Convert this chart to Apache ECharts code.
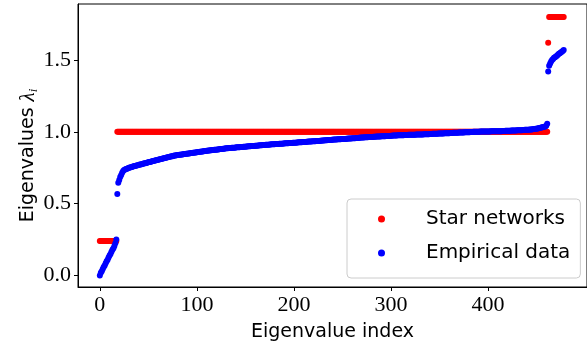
<!DOCTYPE html>
<html>
<head>
<meta charset="utf-8">
<script src="https://cdn.jsdelivr.net/npm/echarts@6/dist/echarts.min.js"></script>
<style>
html,body{margin:0;padding:0;background:#fff;}
#c{width:587px;height:347px;}
</style>
</head>
<body>
<div id="c"></div>
<script>
// Star networks eigenvalues (index 0..478)
var starValues = [
0.24,0.24,0.24,0.24,0.24,0.24,0.24,0.24,0.24,0.24,0.24,0.24,0.24,0.24,0.24,0.24,0.24,0.24,
1,1,1,1,1,1,1,1,1,1,1,1,1,1,1,1,1,1,1,1,1,1,1,1,1,1,1,1,1,1,1,1,1,1,1,1,1,1,1,1,
1,1,1,1,1,1,1,1,1,1,1,1,1,1,1,1,1,1,1,1,1,1,1,1,1,1,1,1,1,1,1,1,1,1,1,1,1,1,1,1,
1,1,1,1,1,1,1,1,1,1,1,1,1,1,1,1,1,1,1,1,1,1,1,1,1,1,1,1,1,1,1,1,1,1,1,1,1,1,1,1,
1,1,1,1,1,1,1,1,1,1,1,1,1,1,1,1,1,1,1,1,1,1,1,1,1,1,1,1,1,1,1,1,1,1,1,1,1,1,1,1,
1,1,1,1,1,1,1,1,1,1,1,1,1,1,1,1,1,1,1,1,1,1,1,1,1,1,1,1,1,1,1,1,1,1,1,1,1,1,1,1,
1,1,1,1,1,1,1,1,1,1,1,1,1,1,1,1,1,1,1,1,1,1,1,1,1,1,1,1,1,1,1,1,1,1,1,1,1,1,1,1,
1,1,1,1,1,1,1,1,1,1,1,1,1,1,1,1,1,1,1,1,1,1,1,1,1,1,1,1,1,1,1,1,1,1,1,1,1,1,1,1,
1,1,1,1,1,1,1,1,1,1,1,1,1,1,1,1,1,1,1,1,1,1,1,1,1,1,1,1,1,1,1,1,1,1,1,1,1,1,1,1,
1,1,1,1,1,1,1,1,1,1,1,1,1,1,1,1,1,1,1,1,1,1,1,1,1,1,1,1,1,1,1,1,1,1,1,1,1,1,1,1,
1,1,1,1,1,1,1,1,1,1,1,1,1,1,1,1,1,1,1,1,1,1,1,1,1,1,1,1,1,1,1,1,1,1,1,1,1,1,1,1,
1,1,1,1,1,1,1,1,1,1,1,1,1,1,1,1,1,1,1,1,1,1,1,1,1,1,1,1,1,1,1,1,1,1,1,1,1,1,1,1,
1,1,1,1,
1.62,
1.8,1.8,1.8,1.8,1.8,1.8,1.8,1.8,1.8,1.8,1.8,1.8,1.8,1.8,1.8,1.8
];

// Empirical data eigenvalues (index 0..478)
var empiricalValues = [
0.000,0.020,0.030,0.045,0.060,0.070,0.085,0.100,0.110,0.125,
0.140,0.150,0.165,0.180,0.190,0.205,0.225,0.250,0.567,0.645,
0.665,0.685,0.700,0.715,0.728,0.735,0.738,0.741,0.744,0.747,
0.750,0.752,0.754,0.756,0.758,0.760,0.762,0.764,0.766,0.768,
0.770,0.772,0.773,0.775,0.777,0.779,0.781,0.782,0.784,0.786,
0.788,0.790,0.791,0.793,0.795,0.797,0.798,0.800,0.802,0.804,
0.806,0.807,0.809,0.811,0.813,0.814,0.816,0.818,0.820,0.821,
0.823,0.825,0.826,0.828,0.830,0.831,0.833,0.835,0.836,0.837,
0.838,0.839,0.840,0.841,0.842,0.843,0.844,0.845,0.846,0.847,
0.848,0.849,0.850,0.851,0.852,0.853,0.854,0.855,0.856,0.857,
0.858,0.859,0.860,0.861,0.862,0.863,0.864,0.865,0.866,0.867,
0.868,0.869,0.870,0.871,0.872,0.872,0.873,0.874,0.875,0.876,
0.876,0.877,0.878,0.879,0.880,0.880,0.881,0.882,0.883,0.884,
0.885,0.885,0.886,0.887,0.887,0.888,0.889,0.889,0.890,0.890,
0.891,0.892,0.892,0.893,0.893,0.894,0.895,0.895,0.896,0.896,
0.897,0.898,0.898,0.899,0.899,0.900,0.901,0.901,0.902,0.902,
0.903,0.904,0.904,0.905,0.905,0.906,0.907,0.907,0.908,0.908,
0.909,0.910,0.910,0.911,0.911,0.912,0.912,0.913,0.913,0.914,
0.914,0.915,0.915,0.916,0.916,0.917,0.917,0.918,0.918,0.919,
0.919,0.920,0.920,0.921,0.921,0.922,0.922,0.923,0.923,0.924,
0.924,0.925,0.925,0.926,0.926,0.927,0.927,0.928,0.928,0.929,
0.929,0.930,0.930,0.931,0.931,0.932,0.932,0.933,0.933,0.934,
0.934,0.935,0.935,0.936,0.936,0.937,0.937,0.938,0.938,0.939,
0.939,0.940,0.941,0.942,0.942,0.943,0.943,0.944,0.944,0.945,
0.945,0.946,0.946,0.947,0.947,0.948,0.948,0.949,0.949,0.950,
0.950,0.951,0.951,0.951,0.952,0.952,0.953,0.953,0.954,0.954,
0.955,0.955,0.956,0.956,0.957,0.957,0.958,0.959,0.959,0.960,
0.960,0.961,0.961,0.962,0.962,0.963,0.963,0.964,0.964,0.965,
0.965,0.965,0.966,0.966,0.966,0.967,0.967,0.968,0.968,0.968,
0.969,0.969,0.970,0.970,0.970,0.971,0.971,0.972,0.972,0.972,
0.973,0.973,0.974,0.974,0.975,0.975,0.975,0.976,0.976,0.976,
0.977,0.977,0.977,0.977,0.978,0.978,0.978,0.978,0.979,0.979,
0.979,0.979,0.980,0.980,0.980,0.980,0.981,0.981,0.981,0.981,
0.982,0.982,0.982,0.982,0.983,0.983,0.983,0.984,0.984,0.984,
0.985,0.985,0.985,0.986,0.986,0.986,0.987,0.987,0.987,0.988,
0.988,0.988,0.989,0.989,0.989,0.990,0.990,0.990,0.991,0.991,
0.991,0.992,0.992,0.992,0.993,0.993,0.993,0.994,0.994,0.994,
0.995,0.995,0.995,0.996,0.996,0.996,0.997,0.997,0.997,0.998,
0.998,0.998,0.999,0.999,0.999,1.000,1.000,1.000,1.001,1.001,
1.001,1.001,1.002,1.002,1.002,1.002,1.002,1.003,1.003,1.003,
1.003,1.003,1.003,1.004,1.004,1.004,1.004,1.004,1.005,1.005,
1.005,1.005,1.005,1.005,1.005,1.006,1.006,1.006,1.007,1.007,
1.007,1.008,1.008,1.008,1.009,1.009,1.009,1.010,1.010,1.010,
1.011,1.011,1.011,1.012,1.012,1.012,1.013,1.013,1.014,1.014,
1.014,1.015,1.015,1.016,1.016,1.017,1.018,1.019,1.020,1.021,
1.022,1.024,1.025,1.027,1.028,1.030,1.032,1.034,1.036,1.038,
1.042,1.056,1.420,1.460,1.475,1.490,1.500,1.508,1.515,1.520,
1.525,1.530,1.537,1.543,1.548,1.553,1.558,1.563,1.570
];

var xTicks = [0, 100, 200, 300, 400];
var yTicks = [0, 0.5, 1.0, 1.5];
var seriesNames = ['Star networks', 'Empirical data'];

function toPoints(arr) { return arr.map(function (v, i) { return [i, v]; }); }

var serif = '"Liberation Serif", serif';
var sans = '"DejaVu Sans", sans-serif';

var chart = echarts.init(document.getElementById('c'), null, {renderer: 'canvas'});
chart.setOption({
  animation: false,
  backgroundColor: '#fff',
  grid: {left: 78, top: 4, width: 518, height: 288, show: true, borderColor: '#000', borderWidth: 1, containLabel: false},
  xAxis: {
    type: 'value', min: -22.5, max: 502,
    name: 'Eigenvalue index', nameLocation: 'middle', nameGap: 36, nameMoveOverlap: false,
    nameTextStyle: {fontFamily: sans, fontSize: 19, color: '#000'},
    axisLine: {show: true, onZero: false, lineStyle: {color: '#000', width: 1}},
    axisTick: {show: true, length: 4, inside: false, customValues: xTicks, lineStyle: {color: '#000'}},
    axisLabel: {customValues: xTicks, fontFamily: serif, fontSize: 22, color: '#000', margin: 7},
    splitLine: {show: false}
  },
  yAxis: {
    type: 'value', min: -0.08, max: 1.89,
    name: 'Eigenvalues {l|λ}{s|i}', nameLocation: 'middle', nameGap: 38, nameMoveOverlap: false,
    nameTextStyle: {fontFamily: sans, fontSize: 19, color: '#000', padding: [0, 20, 0, 0],
      rich: {
        l: {fontFamily: serif, fontStyle: 'italic', fontSize: 21, color: '#000'},
        s: {fontFamily: serif, fontStyle: 'italic', fontSize: 13, color: '#000', padding: [10, 0, 0, 0]}
      }},
    axisLine: {show: true, onZero: false, lineStyle: {color: '#000', width: 1}},
    axisTick: {show: true, length: 4, inside: false, customValues: yTicks, lineStyle: {color: '#000'}},
    axisLabel: {customValues: yTicks, fontFamily: serif, fontSize: 22, color: '#000', margin: 7,
      formatter: function (v) { return v.toFixed(1); }},
    splitLine: {show: false}
  },
  legend: {
    orient: 'vertical', left: 347, top: 199,
    padding: [7, 10, 12, 31], itemGap: 8,
    borderColor: '#cccccc', borderWidth: 1, borderRadius: 4, backgroundColor: 'rgba(255,255,255,0.8)',
    icon: 'circle', itemWidth: 7, itemHeight: 7,
    textStyle: {fontFamily: sans, fontSize: 20, color: '#000', lineHeight: 26, padding: [0, 0, 0, 36]},
    data: seriesNames
  },
  series: [
    {name: seriesNames[0], type: 'scatter', data: toPoints(starValues), symbolSize: 6,
      itemStyle: {color: '#ff0000', opacity: 1}},
    {name: seriesNames[1], type: 'scatter', data: toPoints(empiricalValues), symbolSize: 6,
      itemStyle: {color: '#0000ff', opacity: 1}}
  ]
});
</script>
</body>
</html>
